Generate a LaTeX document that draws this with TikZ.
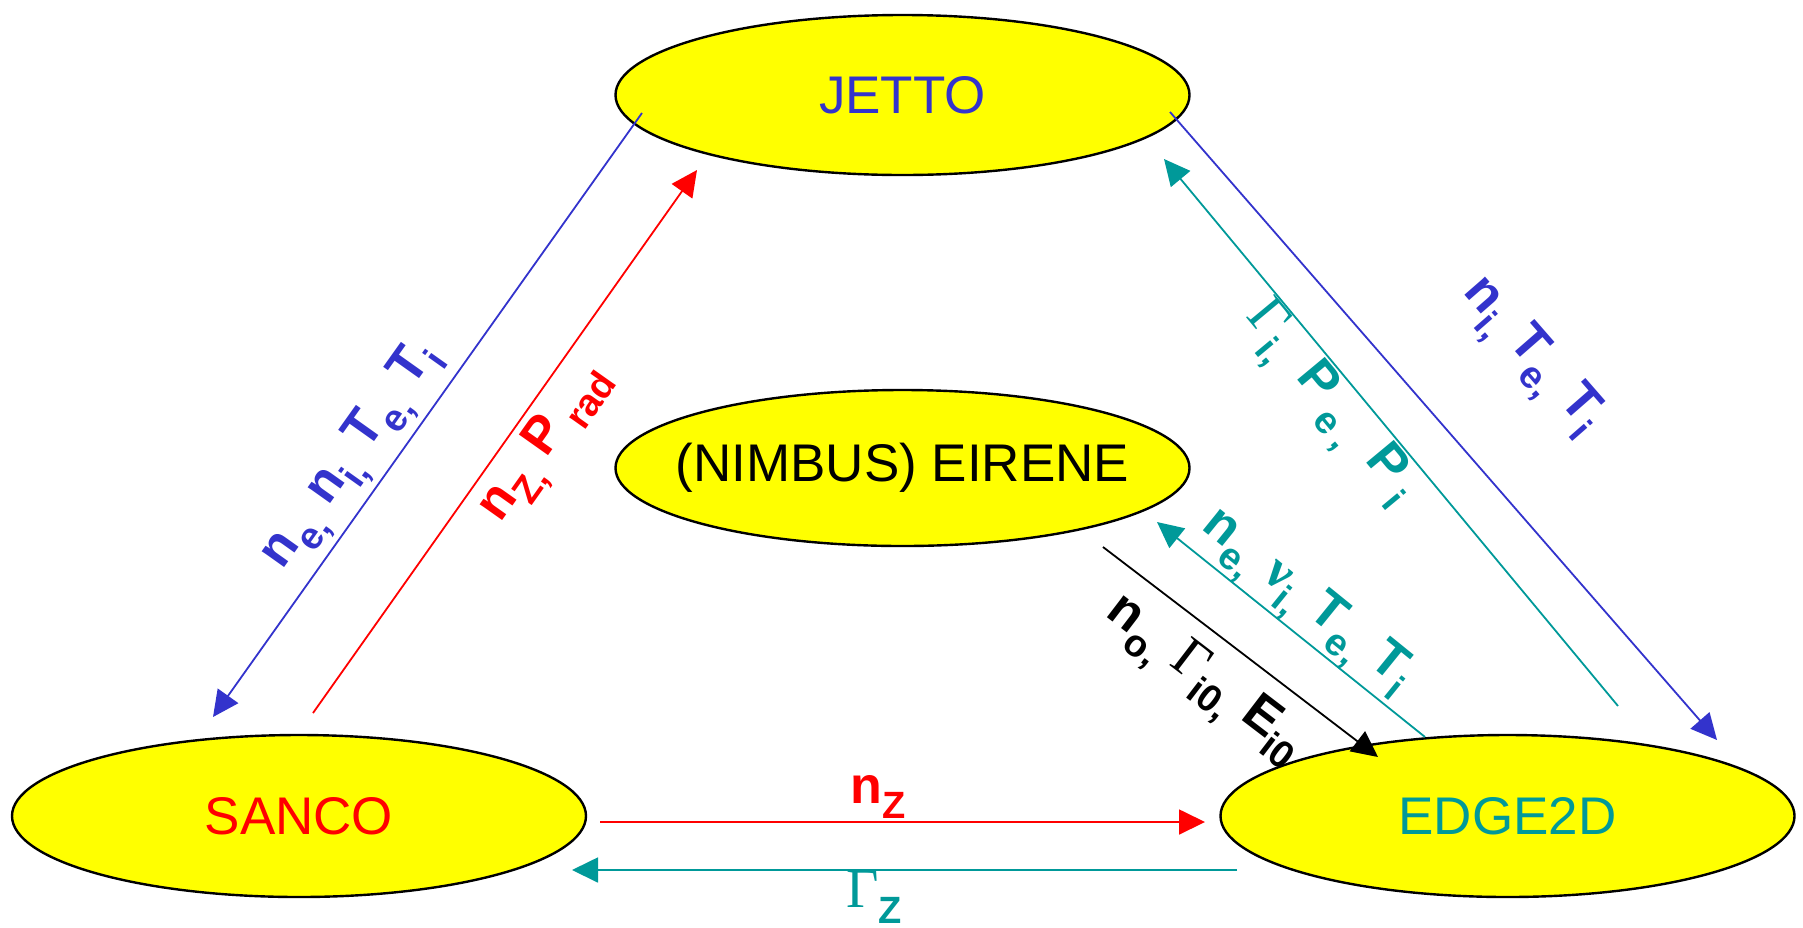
\documentclass[tikz,border=0pt]{standalone}
\usepackage{fontspec}
\setmainfont{Liberation Sans}
\newfontfamily\grkfont{Liberation Serif}
\usetikzlibrary{positioning,arrows.meta,shapes.geometric}
\definecolor{cdBlue}{RGB}{51,51,204}
\definecolor{cdRed}{RGB}{255,0,0}
\definecolor{cdTeal}{RGB}{0,153,153}
\definecolor{cdYellow}{RGB}{255,255,0}
\newcommand{\sbx}[1]{\raisebox{-0.3em}{\fontsize{19}{19}\selectfont #1}}
\newcommand{\Gam}{{\grkfont\mdseries\fontsize{28}{30}\selectfont Γ}}
\newcommand{\nuu}{{\grkfont ν}}

\begin{document}
\begin{tikzpicture}[x=0.5pt, y=0.5pt,
  code/.style={ellipse, draw=black, line width=1.2pt, fill=cdYellow, minimum width=287pt, minimum height=80pt, inner xsep=-20pt, inner ysep=0pt, font=\fontsize{26.5}{30}\selectfont},
  flow/.style={-{Triangle[length=13pt,width=12.5pt]}, line width=0.9pt},
  lbl/.style={font=\fontsize{26}{30}\selectfont\bfseries, inner sep=0pt}]
  \useasboundingbox (0,0) rectangle (1803,-927);

  % the four codes
  \node[code, text=cdBlue] (jetto) at (902.5,-95) {JETTO};
  \node[code, minimum height=78pt] (eirene) at (902.5,-468) {(NIMBUS) EIRENE};
  \node[code, minimum height=81pt, text=cdRed] (sanco) at (299,-816) {SANCO};
  \node[code, minimum height=81pt, text=cdTeal] (edge) at (1507.5,-816) {EDGE2D};

  % connector ends
  \coordinate (jL) at (642,-113);   \coordinate (sT) at (213,-717);
  \coordinate (sR) at (313,-713);   \coordinate (jR) at (697,-170);
  \coordinate (jB) at (1170,-112);  \coordinate (eB) at (1717,-740);
  \coordinate (eT) at (1618,-706);  \coordinate (jT) at (1164,-159);
  \coordinate (eM) at (1425,-737);  \coordinate (rM) at (1157,-522);
  \coordinate (rK) at (1103,-547);  \coordinate (eK) at (1378,-757);
  \coordinate (sH) at (600,-822);   \coordinate (eH) at (1205,-822);
  \coordinate (eG) at (1237,-870);  \coordinate (sG) at (572,-870);

  % JETTO <-> SANCO
  \draw[flow, cdBlue] (jL) -- (sT);
  \draw[flow, cdRed] (sR) -- (jR);
  \node[lbl, text=cdBlue, rotate=54.6] (lblJS) at (354,-458) {n\sbx{e,} n\sbx{i,} T\sbx{e,} T\sbx{i}};
  \node[lbl, text=cdRed, rotate=54.7] (lblSJ) at (547,-445) {n\sbx{Z,} P\,\sbx{rad}};

  % JETTO <-> EDGE2D
  \draw[flow, cdBlue] (jB) -- (eB);
  \draw[flow, cdTeal] (eT) -- (jT);
  \node[lbl, text=cdBlue, rotate=-48.9] (lblJE) at (1530,-358) {n\sbx{i,} T\sbx{e,} T\sbx{i}};
  \node[lbl, text=cdTeal, rotate=-50.3] (lblEJ) at (1328,-405) {\Gam\sbx{i,}\hspace{0.2em} P\sbx{\hspace{0.25em}e\hspace{0.2em},}\hspace{0.2em} P\sbx{\hspace{0.25em}i}};

  % EIRENE <-> EDGE2D
  \draw[flow, cdTeal] (eM) -- (rM);
  \draw[flow, black] (rK) -- (eK);
  \node[lbl, text=cdTeal, rotate=-39] (lblER) at (1305,-604) {n\sbx{e,} \nuu\sbx{i,} T\sbx{e,} T\sbx{i}};
  \node[lbl, text=black, rotate=-37.4] (lblRE) at (1203,-681) {n\sbx{o,} \Gam\sbx{i0,} E\sbx{i0}};

  % SANCO <-> EDGE2D
  \draw[flow, cdRed] (sH) -- (eH);
  \draw[flow, cdTeal] (eG) -- (sG);
  \node[lbl, text=cdRed] (lblSE) at (878,-797) {n\sbx{Z}};
  \node[lbl, text=cdTeal] (lblES) at (874,-897) {\Gam\sbx{Z}};
\end{tikzpicture}
\end{document}
